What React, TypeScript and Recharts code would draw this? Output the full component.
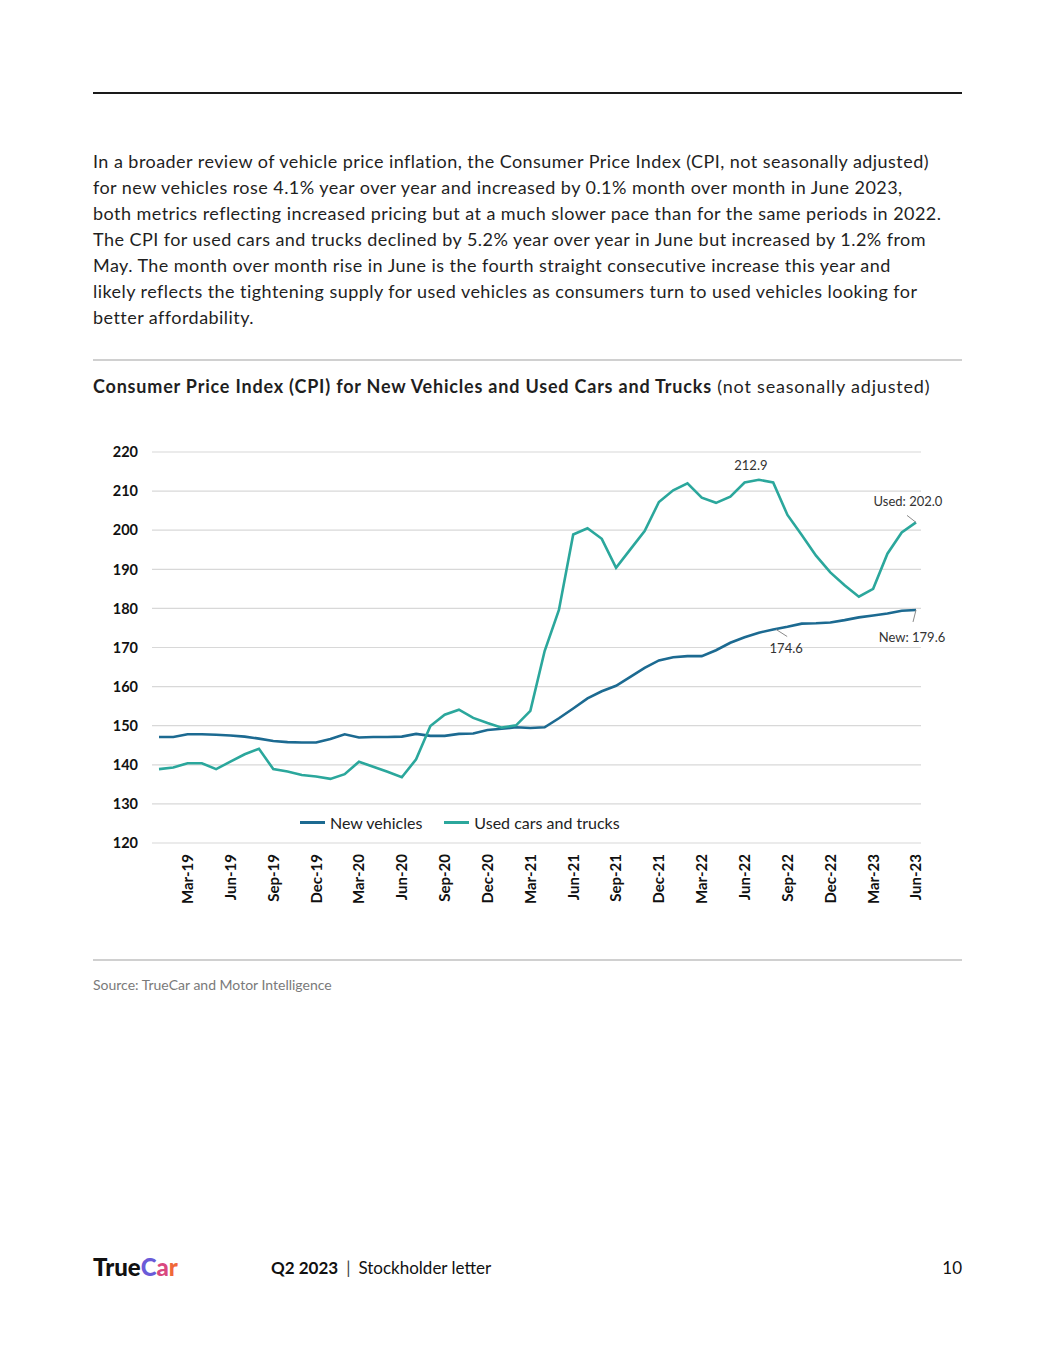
import React from 'react';
import { LineChart, Line, XAxis, YAxis, CartesianGrid, Legend, LabelList } from 'recharts';

const months = [
  'Jan-19','Feb-19','Mar-19','Apr-19','May-19','Jun-19','Jul-19','Aug-19','Sep-19','Oct-19','Nov-19','Dec-19',
  'Jan-20','Feb-20','Mar-20','Apr-20','May-20','Jun-20','Jul-20','Aug-20','Sep-20','Oct-20','Nov-20','Dec-20',
  'Jan-21','Feb-21','Mar-21','Apr-21','May-21','Jun-21','Jul-21','Aug-21','Sep-21','Oct-21','Nov-21','Dec-21',
  'Jan-22','Feb-22','Mar-22','Apr-22','May-22','Jun-22','Jul-22','Aug-22','Sep-22','Oct-22','Nov-22','Dec-22',
  'Jan-23','Feb-23','Mar-23','Apr-23','May-23','Jun-23',
];

const newVehicles = [
  147.1, 147.1, 147.8, 147.8, 147.7, 147.5, 147.2, 146.7, 146.1, 145.8, 145.7, 145.7,
  146.6, 147.8, 147.0, 147.1, 147.1, 147.2, 147.9, 147.4, 147.4, 147.9, 148.0, 148.9,
  149.2, 149.6, 149.4, 149.6, 151.9, 154.4, 157.0, 158.8, 160.2, 162.5, 164.8, 166.7,
  167.5, 167.8, 167.8, 169.3, 171.2, 172.6, 173.8, 174.6, 175.3, 176.1, 176.2, 176.4,
  177.0, 177.7, 178.2, 178.7, 179.4, 179.6,
];

const usedCars = [
  138.9, 139.3, 140.4, 140.4, 138.9, 140.8, 142.7, 144.1, 138.9, 138.3, 137.4, 137.0,
  136.4, 137.6, 140.8, 139.5, 138.2, 136.8, 141.4, 149.9, 152.8, 154.1, 152.0, 150.7,
  149.5, 150.1, 153.8, 169.1, 179.6, 198.9, 200.5, 197.8, 190.4, 195.1, 199.8, 207.2,
  210.2, 212.0, 208.3, 207.0, 208.6, 212.2, 212.9, 212.2, 203.9, 198.8, 193.5, 189.2,
  185.9, 183.0, 185.0, 194.0, 199.4, 202.0,
];

const yTicks = [120, 130, 140, 150, 160, 170, 180, 190, 200, 210, 220];
const labelledMonths = ['Mar', 'Jun', 'Sep', 'Dec'];

const seriesNames = { newV: 'New vehicles', used: 'Used cars and trucks' };
const colors = { newV: '#1c6a91', used: '#2ba79c' };

const usedNotes = [
  { index: 42, text: '212.9', dx: -8, dy: -14, lx: 0, ly: 0 },
  { index: 53, text: 'Used: 202.0', dx: -8, dy: -21, lx: -9, ly: -7 },
];
const newNotes = [
  { index: 43, text: '174.6', dx: 13, dy: 19, lx: 14, ly: 7, sx: 3 },
  { index: 53, text: 'New: 179.6', dx: -4, dy: 27, lx: -3, ly: 12, sx: 0 },
];

const data = months.map((m, i) => ({ month: m, newV: newVehicles[i], used: usedCars[i] }));

const FONT = "Lato, 'Open Sans', sans-serif";

const paragraph = [
  'In a broader review of vehicle price inflation, the Consumer Price Index (CPI, not seasonally adjusted)',
  'for new vehicles rose 4.1% year over year and increased by 0.1% month over month in June 2023,',
  'both metrics reflecting increased pricing but at a much slower pace than for the same periods in 2022.',
  'The CPI for used cars and trucks declined by 5.2% year over year in June but increased by 1.2% from',
  'May. The month over month rise in June is the fourth straight consecutive increase this year and',
  'likely reflects the tightening supply for used vehicles as consumers turn to used vehicles looking for',
  'better affordability.',
];

const XTick = (props: any) => {
  const { x, y, payload } = props;
  const v: string = payload.value;
  if (!labelledMonths.includes(v.slice(0, 3))) return null;
  return (
    <g transform={`translate(${x},${y})`}>
      <text
        transform="rotate(-90)"
        textAnchor="end"
        dy="0.36em"
        fontFamily={FONT}
        fontWeight={700}
        fontSize={15}
        fill="#111"
      >
        {v}
      </text>
    </g>
  );
};

const YTick = (props: any) => {
  const { x, y, payload } = props;
  return (
    <text x={x} y={y} dy="0.36em" textAnchor="end" fontFamily={FONT} fontWeight={700} fontSize={14.5} fill="#111">
      {payload.value}
    </text>
  );
};

const makeNote = (notes: any[]) => (props: any) => {
  const { x, y, index } = props;
  const n = notes.find((k) => k.index === index);
  if (!n) return null;
  const sx = n.sx || 0;
  return (
    <g>
      {(n.lx !== 0 || n.ly !== 0) && (
        <line x1={x + sx} y1={y} x2={x + n.lx} y2={y + n.ly} stroke="#8a8a8a" strokeWidth={1} />
      )}
      <text
        x={x + n.dx}
        y={y + n.dy}
        dy="0.36em"
        textAnchor="middle"
        fontFamily={FONT}
        fontSize={13}
        fill="#333"
      >
        {n.text}
      </text>
    </g>
  );
};

const LegendContent = () => (
  <div style={{ display: 'flex', alignItems: 'center', fontFamily: FONT, fontSize: 16, color: '#222', height: 20 }}>
    {(['newV', 'used'] as const).map((k, i) => (
      <div key={k} style={{ display: 'flex', alignItems: 'center', marginLeft: i === 0 ? 0 : 22 }}>
        <div style={{ width: 25, height: 3, background: colors[k], marginRight: 5 }} />
        <span>{seriesNames[k]}</span>
      </div>
    ))}
  </div>
);

export default function App() {
  return (
    <div style={{ position: 'absolute', left: 0, top: 0, width: 1055, height: 1365, background: '#fff', fontFamily: FONT, color: '#1f1f1f' }}>
      <div style={{ position: 'absolute', left: 93, top: 92, width: 869, height: 2, background: '#1a1a1a' }} />
      <div style={{ position: 'absolute', left: 93, top: 148, fontSize: 18, letterSpacing: 0.45, lineHeight: '26px' }}>
        {paragraph.map((l, i) => (
          <div key={i} style={{ whiteSpace: 'nowrap' }}>{l}</div>
        ))}
      </div>
      <div style={{ position: 'absolute', left: 93, top: 359, width: 869, height: 2, background: '#d0d0d0' }} />
      <div style={{ position: 'absolute', left: 93, top: 374, fontSize: 18, letterSpacing: 0.8, lineHeight: '24px', whiteSpace: 'nowrap' }}>
        <span style={{ fontWeight: 700 }}>Consumer Price Index (CPI) for New Vehicles and Used Cars and Trucks</span>{' '}
        <span>(not seasonally adjusted)</span>
      </div>

      <div style={{ position: 'absolute', left: 0, top: 440 }}>
        <LineChart
          width={1055}
          height={493}
          data={data}
          margin={{ top: 12, right: 134, bottom: 0, left: 92 }}
        >
          <CartesianGrid vertical={false} stroke="#d8d8d8" strokeWidth={1.2} />
          <XAxis
            dataKey="month"
            interval={0}
            tick={<XTick />}
            tickLine={false}
            axisLine={false}
            tickSize={0}
            tickMargin={11}
            height={70}
            padding={{ left: 7, right: 5 }}
          />
          <YAxis
            domain={[120, 220]}
            ticks={yTicks}
            tick={<YTick />}
            tickLine={false}
            axisLine={false}
            tickSize={0}
            tickMargin={14}
            width={60}
            interval={0}
          />
          <Legend
            content={<LegendContent />}
            wrapperStyle={{ position: 'absolute', left: 300, top: 372, width: 400, height: 20 }}
          />
          <Line
            type="linear"
            dataKey="newV"
            name={seriesNames.newV}
            stroke={colors.newV}
            strokeWidth={2.6}
            dot={false}
            isAnimationActive={false}
          >
            <LabelList dataKey="newV" content={makeNote(newNotes)} />
          </Line>
          <Line
            type="linear"
            dataKey="used"
            name={seriesNames.used}
            stroke={colors.used}
            strokeWidth={2.6}
            dot={false}
            isAnimationActive={false}
          >
            <LabelList dataKey="used" content={makeNote(usedNotes)} />
          </Line>
        </LineChart>
      </div>

      <div style={{ position: 'absolute', left: 93, top: 959, width: 869, height: 2, background: '#d0d0d0' }} />
      <div style={{ position: 'absolute', left: 93, top: 976, fontSize: 14, color: '#7a7a7a', whiteSpace: 'nowrap' }}>
        Source: TrueCar and Motor Intelligence
      </div>

      <div style={{ position: 'absolute', left: 93, top: 1252, fontSize: 24, fontWeight: 900, whiteSpace: 'nowrap' }}>
        <span style={{ color: '#111' }}>True</span>
        <span style={{ color: '#6a5bd8' }}>C</span>
        <span style={{ color: '#d9487f' }}>a</span>
        <span style={{ color: '#f0683a' }}>r</span>
      </div>
      <div style={{ position: 'absolute', left: 271, top: 1257, fontSize: 17, whiteSpace: 'nowrap', color: '#111' }}>
        <span style={{ fontWeight: 700 }}>Q2 2023</span>
        <span style={{ margin: '0 8px', color: '#444' }}>|</span>
        <span>Stockholder letter</span>
      </div>
      <div style={{ position: 'absolute', right: 1055 - 962, top: 1257, fontSize: 17, color: '#111' }}>10</div>
    </div>
  );
}
